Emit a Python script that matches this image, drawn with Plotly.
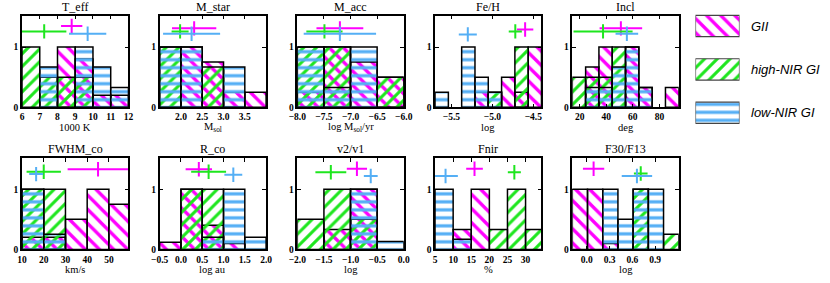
import plotly.graph_objects as go

# ---------------- data ----------------
panel_titles = ["T_eff", "M_star", "M_acc", "Fe/H", "Incl",
                "FWHM_co", "R_co", "v2/v1", "Fnir", "F30/F13"]
x_titles = ["1000 K", "M<sub>sol</sub>", "log M<sub>sol</sub>/yr", "log", "deg",
            "km/s", "log au", "log", "%", "log"]

bin_start = [6.0, 1.5, -8.0, -5.7, 14.5, 10.0, -0.5, -2.0, 5.0, -0.19]
bin_width = [1.0, 0.5, 0.5, 0.1625, 10.0, 10.0, 0.5, 0.5, 5.0, 0.2]
x_ranges = [[6, 12], [1.5, 4.0], [-8.0, -6.0], [-5.7, -4.4], [14.5, 94.5],
            [10, 59], [-0.5, 2.0], [-2.0, 0.0], [5, 34.4], [-0.19, 1.21]]

x_tickvals = [[6, 7, 8, 9, 10, 11, 12],
              [2.0, 2.5, 3.0, 3.5],
              [-8.0, -7.5, -7.0, -6.5, -6.0],
              [-5.5, -5.0, -4.5],
              [20, 40, 60, 80],
              [10, 20, 30, 40, 50],
              [-0.5, 0.0, 0.5, 1.0, 1.5, 2.0],
              [-2.0, -1.5, -1.0, -0.5, 0.0],
              [5, 10, 15, 20, 25, 30],
              [0.0, 0.3, 0.6, 0.9]]
x_ticktext = [["6", "7", "8", "9", "10", "11", "12"],
              ["2.0", "2.5", "3.0", "3.5"],
              ["\u22128.0", "\u22127.5", "\u22127.0", "\u22126.5", "\u22126.0"],
              ["\u22125.5", "\u22125.0", "\u22124.5"],
              ["20", "40", "60", "80"],
              ["10", "20", "30", "40", "50"],
              ["\u22120.5", "0.0", "0.5", "1.0", "1.5", "2.0"],
              ["\u22122.0", "\u22121.5", "\u22121.0", "\u22120.5", "0.0"],
              ["5", "10", "15", "20", "25", "30"],
              ["0.0", "0.3", "0.6", "0.9"]]
y_tickvals = [0, 1]
y_ticktext = ["0", "1"]

# normalised histograms (one list per panel)
gii_hist = [[0, 0, 1.0, 0.8, 0.2, 0.2],
            [0, 1.0, 0.75, 0.25, 0.25],
            [0.25, 1.0, 0.75, 0.5],
            [0, 0, 0, 0.25, 0, 0.5, 0.25, 1.0],
            [0, 0.67, 1.0, 0, 1.0, 0.33, 0, 0.33],
            [0.2, 0.2, 0.5, 1.0, 0.75],
            [0.12, 1.0, 0.4, 0.1, 0],
            [0, 0.33, 1.0, 0],
            [0, 0.33, 1.0, 0, 0, 0],
            [1.0, 1.0, 0.1, 0, 0, 0, 0]]
high_hist = [[1.0, 0.5, 0.5, 0.5, 0, 0],
             [1.0, 0, 0.67, 0, 0],
             [1.0, 1.0, 0, 0.5],
             [0, 0, 0, 0, 0.25, 0, 1.0, 0],
             [0.5, 0.5, 0.5, 1.0, 0, 0, 0, 0],
             [1.0, 1.0, 0, 0, 0],
             [0, 1.0, 1.0, 0, 0],
             [0.5, 1.0, 0.5, 0],
             [0, 0, 0, 0.33, 1.0, 0.33],
             [0, 0, 0, 0, 1.0, 0, 0.25]]
low_hist = [[0, 0.67, 0, 1.0, 0.67, 0.33],
            [1.0, 1.0, 0, 0.67, 0],
            [1.0, 0.33, 1.0, 0],
            [0.25, 0, 1.0, 0.5, 0.25, 0, 0, 0],
            [0, 0.33, 0.33, 0.67, 1.0, 0.33, 0, 0],
            [1.0, 0.25, 0, 0, 0],
            [0, 0, 0.2, 1.0, 0.2],
            [0, 0, 1.0, 0.13],
            [1.0, 0.17, 0, 0, 0, 0],
            [0, 0, 1.0, 0.5, 1.0, 1.0, 0]]

# mean and standard deviation of each group
gii_mean = [8.8, 2.31, -7.2, -4.6, 51.0, 45.0, 0.42, -0.88, 15.9, 0.09]
gii_sd = [0.6, 0.52, 0.44, 0.1, 16.0, 14.0, 0.31, 0.19, 2.3, 0.14]
high_mean = [7.25, 1.98, -7.49, -4.72, 37.6, 20.0, 0.65, -1.37, 26.9, 0.71]
high_sd = [1.25, 0.2, 0.34, 0.08, 22.2, 7.9, 0.41, 0.29, 1.8, 0.09]
low_mean = [9.7, 2.25, -7.2, -5.3, 55.5, 16.5, 1.23, -0.62, 7.9, 0.66]
low_sd = [1.05, 0.67, 0.68, 0.11, 8.5, 3.2, 0.21, 0.13, 3.4, 0.2]

legend_names = ["GII", "high-NIR GI", "low-NIR GI"]

# ---------------- style ----------------
W, H = 830, 283
MAG = "#FF00FF"
GRN = "rgb(30,230,30)"
BLU = "rgb(85,175,245)"
box_left = [13.3, 154.0, 294.7, 435.5, 575.8]
box_w = 108.8
box_top = [16.0, 160.7]
box_h = 93.2
Y_MAX = 1.52
FONT = "Liberation Serif"

gii_lvl = [1.35, 1.31, 1.31, 1.29, 1.31, 1.33, 1.33, 1.34, 1.34, 1.34]
high_lvl = [1.26, 1.26, 1.26, 1.26, 1.26, 1.29, 1.29, 1.28, 1.28, 1.26]
low_lvl = [1.22, 1.22, 1.22, 1.21, 1.22, 1.25, 1.24, 1.22, 1.22, 1.22]

groups = [
    dict(hist=gii_hist, mean=gii_mean, sd=gii_sd, lvl=gii_lvl, color=MAG, shape="\\", size=10, sol=0.34),
    dict(hist=high_hist, mean=high_mean, sd=high_sd, lvl=high_lvl, color=GRN, shape="/", size=9, sol=0.34),
    dict(hist=low_hist, mean=low_mean, sd=low_sd, lvl=low_lvl, color=BLU, shape="-", size=8, sol=0.4),
]

fig = go.Figure()
annotations = []
layout = {}

for i in range(10):
    r, c = divmod(i, 5)
    k = i + 1
    sfx = "" if k == 1 else str(k)
    xa, ya = "x" + sfx, "y" + sfx
    x0 = box_left[c] / W
    x1 = (box_left[c] + box_w) / W
    y1 = 1 - box_top[r] / H
    y0 = 1 - (box_top[r] + box_h) / H
    common = dict(showgrid=False, zeroline=False, showline=True, linecolor="black",
                  linewidth=1.5, mirror="ticks", ticks="inside", ticklen=4,
                  tickcolor="black", tickwidth=1, tickangle=0,
                  tickfont=dict(family=FONT, size=9.5, color="black", weight="bold"))
    layout["xaxis" + sfx] = dict(domain=[x0, x1], anchor=ya, range=x_ranges[i],
                                 tickmode="array", tickvals=x_tickvals[i],
                                 ticktext=x_ticktext[i], **common)
    layout["yaxis" + sfx] = dict(domain=[y0, y1], anchor=xa, range=[0, Y_MAX],
                                 tickmode="array", tickvals=y_tickvals,
                                 ticktext=y_ticktext, **common)

    n = len(gii_hist[i])
    centers = [bin_start[i] + (j + 0.5) * bin_width[i] for j in range(n)]
    for g in groups:
        yv = [v if v > 0 else None for v in g["hist"][i]]
        fig.add_trace(go.Bar(
            x=centers, y=yv, width=bin_width[i], xaxis=xa, yaxis=ya,
            showlegend=False,
            marker=dict(color="rgba(0,0,0,0)",
                        line=dict(color="black", width=1.5),
                        pattern=dict(shape=g["shape"], fgcolor=g["color"],
                                     bgcolor="rgba(0,0,0,0)", size=g["size"],
                                     solidity=g["sol"], fillmode="replace"))))
    for g in groups:
        fig.add_trace(go.Scatter(
            x=[g["mean"][i]], y=[g["lvl"][i]], xaxis=xa, yaxis=ya, mode="markers",
            showlegend=False, marker=dict(size=1, color=g["color"]),
            error_x=dict(type="data", array=[g["sd"][i]], thickness=2, width=0, color=g["color"]),
            error_y=dict(type="data", array=[0.12], thickness=2, width=0, color=g["color"])))

    # panel title
    annotations.append(dict(text=panel_titles[i], xref="paper", yref="paper",
                            x=(x0 + x1) / 2, y=1 - (box_top[r] - 9.0) / H,
                            xanchor="center", yanchor="middle", showarrow=False,
                            font=dict(family=FONT, size=12, color="black")))
    # x-axis title
    annotations.append(dict(text=x_titles[i], xref="paper", yref="paper",
                            x=(x0 + x1) / 2, y=1 - (box_top[r] + box_h + 20.5) / H,
                            xanchor="center", yanchor="middle", showarrow=False,
                            font=dict(family=FONT, size=10.5, color="black")))

# ---------------- legend (swatches drawn as bars on a hidden axis) ----------------
leg_pos = [2, 1, 0]
layout["xaxis11"] = dict(domain=[701.7 / W, 746.7 / W], anchor="y11", range=[0, 1], visible=False)
layout["yaxis11"] = dict(domain=[1 - 136.9 / H, 1 - 4.4 / H], anchor="x11", range=[-0.5, 2.5], visible=False)
for g, p, name in zip(groups, leg_pos, legend_names):
    fig.add_trace(go.Bar(
        x=[1], y=[p], base=0, orientation="h", width=0.49, xaxis="x11", yaxis="y11",
        showlegend=False,
        marker=dict(color="rgba(0,0,0,0)", line=dict(color="#444444", width=1.2),
                    pattern=dict(shape=g["shape"], fgcolor=g["color"], bgcolor="rgba(0,0,0,0)",
                                 size=g["size"], solidity=g["sol"], fillmode="replace"))))
    yc = 4.4 + (2.5 - p) * 44.15
    annotations.append(dict(text="<i>" + name + "</i>", xref="paper", yref="paper",
                            x=756.7 / W, y=1 - yc / H, xanchor="left", yanchor="middle",
                            showarrow=False,
                            font=dict(family="Liberation Sans", size=13, color="black")))

fig.update_layout(**layout)
fig.update_layout(width=W, height=H, margin=dict(l=0, r=0, t=0, b=0),
                  paper_bgcolor="white", plot_bgcolor="white", barmode="overlay",
                  annotations=annotations, showlegend=False)

fig.write_html("out.html", config={"displayModeBar": False},
               post_script="document.body.style.margin='0px';")
